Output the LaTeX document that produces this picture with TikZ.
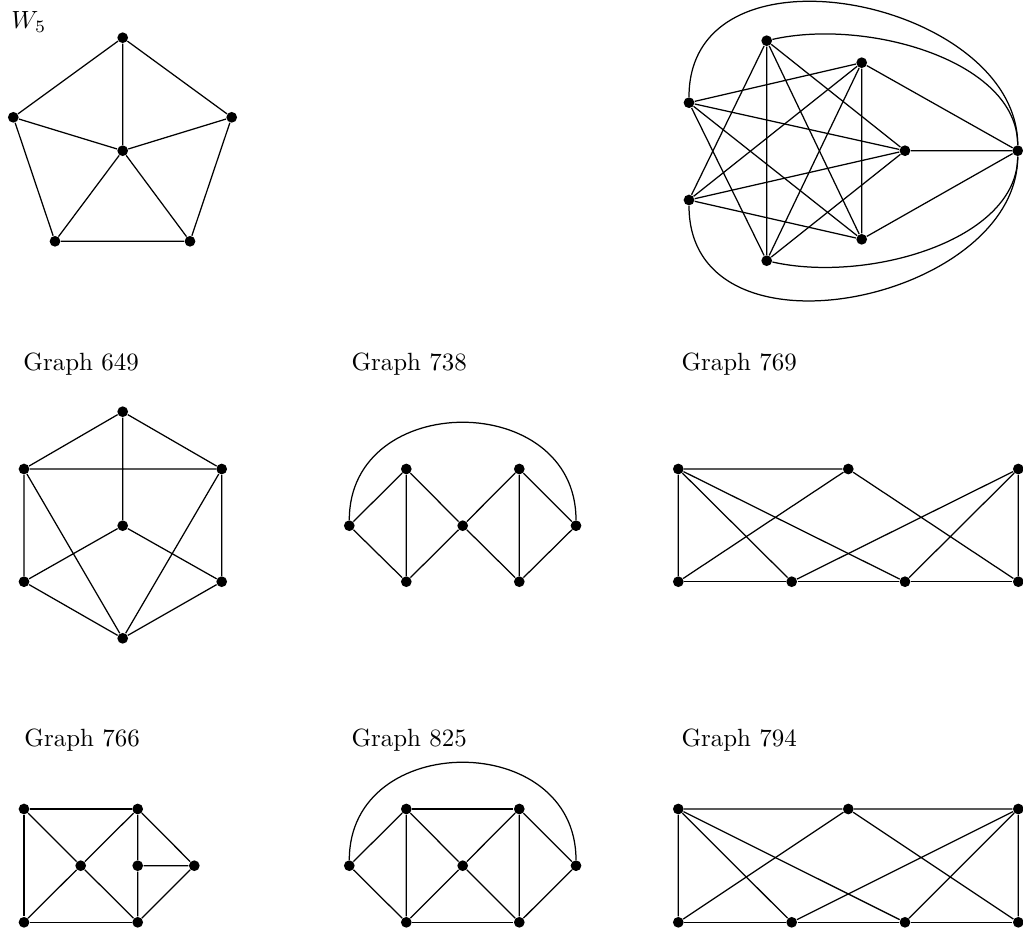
\documentclass[tikz,border=0pt]{standalone}
\usepackage{tikz}

\begin{document}
\begin{tikzpicture}[
    x=0.0141cm, y=-0.0141cm,
    vtx/.style={circle, fill, inner sep=0pt, minimum size=4.3pt},
    edge/.style={line width=0.5pt},
    gname/.style={anchor=base west, inner sep=0pt}
]
\useasboundingbox (0,0) rectangle (1023,928);

% W_5
\node[gname] (wname) at (11,29) {$W_5$};
\node[vtx] (w0) at (122.7,150.7) {};
\node[vtx] (w1) at (122.7,37.7) {};
\node[vtx] (w2) at (231.7,117.3) {};
\node[vtx] (w3) at (190,241.3) {};
\node[vtx] (w4) at (55,241.3) {};
\node[vtx] (w5) at (13.3,117.3) {};
\draw[edge] (w1) -- (w2) -- (w3) -- (w4) -- (w5) -- (w1);
\draw[edge] (w0) -- (w1) (w0) -- (w2) (w0) -- (w3) (w0) -- (w4) (w0) -- (w5);

% top right graph
\node[vtx] (h1) at (689,102.7) {};
\node[vtx] (h2) at (689,200) {};
\node[vtx] (h3) at (766.7,40.7) {};
\node[vtx] (h4) at (766.7,260.7) {};
\node[vtx] (h5) at (861.7,62.7) {};
\node[vtx] (h6) at (861.7,239.3) {};
\node[vtx] (h7) at (905,150.7) {};
\node[vtx] (h8) at (1017.7,150.7) {};
\draw[edge] (h1) -- (h5) (h1) -- (h7) (h1) -- (h6) (h1) -- (h4);
\draw[edge] (h2) -- (h3) (h2) -- (h5) (h2) -- (h7) (h2) -- (h6);
\draw[edge] (h3) -- (h4) (h3) -- (h6) (h3) -- (h7);
\draw[edge] (h4) -- (h5) (h4) -- (h7);
\draw[edge] (h5) -- (h6) (h5) -- (h8) (h6) -- (h8) (h7) -- (h8);
\draw[edge] (h1) .. controls +(0,-170) and +(0,-150) .. (h8);
\draw[edge] (h2) .. controls +(0,170) and +(0,150) .. (h8);
\draw[edge] (h3) .. controls +(100,-22.7) and +(0,-90) .. (h8);
\draw[edge] (h4) .. controls +(100,22.7) and +(0,90) .. (h8);

% Graph 649
\node[gname] (aname) at (23,370) {Graph 649};
\node[vtx] (a1) at (122.7,411.7) {};
\node[vtx] (a2) at (24,469) {};
\node[vtx] (a3) at (221.7,469) {};
\node[vtx] (a4) at (122.7,525.7) {};
\node[vtx] (a5) at (24,581.7) {};
\node[vtx] (a6) at (221.7,581.7) {};
\node[vtx] (a7) at (122.7,638.3) {};
\draw[edge] (a1) -- (a2) (a1) -- (a3) (a1) -- (a4) (a2) -- (a3);
\draw[edge] (a2) -- (a5) (a3) -- (a6) (a2) -- (a7) (a3) -- (a7);
\draw[edge] (a4) -- (a5) (a4) -- (a6) (a5) -- (a7) (a6) -- (a7);

% Graph 738
\node[gname] (bname) at (351,370) {Graph 738};
\node[vtx] (b1) at (349.3,525.7) {};
\node[vtx] (b2) at (406.3,469) {};
\node[vtx] (b3) at (406.3,581.7) {};
\node[vtx] (b4) at (462.7,525.7) {};
\node[vtx] (b5) at (519.3,469) {};
\node[vtx] (b6) at (519.3,581.7) {};
\node[vtx] (b7) at (576,525.7) {};
\draw[edge] (b1) -- (b2) (b1) -- (b3) (b2) -- (b3) (b2) -- (b4) (b3) -- (b4);
\draw[edge] (b4) -- (b5) (b4) -- (b6) (b5) -- (b6) (b5) -- (b7) (b6) -- (b7);
\draw[edge] (b1) .. controls +(0,-136) and +(0,-136) .. (b7);

% Graph 769
\node[gname] (cname) at (681,370) {Graph 769};
\node[vtx] (c1) at (678.3,469) {};
\node[vtx] (c2) at (848.3,469) {};
\node[vtx] (c3) at (1018.3,469) {};
\node[vtx] (c4) at (678.3,581.7) {};
\node[vtx] (c5) at (791.7,581.7) {};
\node[vtx] (c6) at (905,581.7) {};
\node[vtx] (c7) at (1018.3,581.7) {};
\draw[edge] (c1) -- (c2) (c1) -- (c4) (c1) -- (c5) (c1) -- (c6);
\draw[edge] (c2) -- (c4) (c2) -- (c7) (c3) -- (c5) (c3) -- (c6) (c3) -- (c7);
\draw[edge] (c4) -- (c5) -- (c6) -- (c7);

% Graph 766
\node[gname] (dname) at (24,746) {Graph 766};
\node[vtx] (d1) at (24,809) {};
\node[vtx] (d2) at (137.7,809) {};
\node[vtx] (d3) at (80.7,865.7) {};
\node[vtx] (d4) at (24,922.3) {};
\node[vtx] (d5) at (137.7,922.3) {};
\node[vtx] (d6) at (137.7,865.7) {};
\node[vtx] (d7) at (194.3,865.7) {};
\draw[edge] (d1) -- (d2) (d1) -- (d4) (d4) -- (d5);
\draw[edge] (d3) -- (d1) (d3) -- (d2) (d3) -- (d4) (d3) -- (d5);
\draw[edge] (d2) -- (d6) -- (d5) (d6) -- (d7) (d2) -- (d7) -- (d5);

% Graph 825
\node[gname] (ename) at (351,746) {Graph 825};
\node[vtx] (e1) at (349.3,865.7) {};
\node[vtx] (e2) at (406.3,809) {};
\node[vtx] (e3) at (406.3,922.3) {};
\node[vtx] (e4) at (462.7,865.7) {};
\node[vtx] (e5) at (519.3,809) {};
\node[vtx] (e6) at (519.3,922.3) {};
\node[vtx] (e7) at (576,865.7) {};
\draw[edge] (e1) -- (e2) (e1) -- (e3) (e2) -- (e3) (e2) -- (e4) (e3) -- (e4);
\draw[edge] (e4) -- (e5) (e4) -- (e6) (e5) -- (e6) (e5) -- (e7) (e6) -- (e7);
\draw[edge] (e2) -- (e5) (e3) -- (e6);
\draw[edge] (e1) .. controls +(0,-136) and +(0,-136) .. (e7);

% Graph 794
\node[gname] (fname) at (681,746) {Graph 794};
\node[vtx] (f1) at (678.3,809) {};
\node[vtx] (f2) at (848.3,809) {};
\node[vtx] (f3) at (1018.3,809) {};
\node[vtx] (f4) at (678.3,922.3) {};
\node[vtx] (f5) at (791.7,922.3) {};
\node[vtx] (f6) at (905,922.3) {};
\node[vtx] (f7) at (1018.3,922.3) {};
\draw[edge] (f1) -- (f2) -- (f3) (f1) -- (f4) (f1) -- (f5) (f1) -- (f6);
\draw[edge] (f2) -- (f4) (f2) -- (f7) (f3) -- (f5) (f3) -- (f6) (f3) -- (f7);
\draw[edge] (f4) -- (f5) -- (f6) -- (f7);
\end{tikzpicture}
\end{document}
